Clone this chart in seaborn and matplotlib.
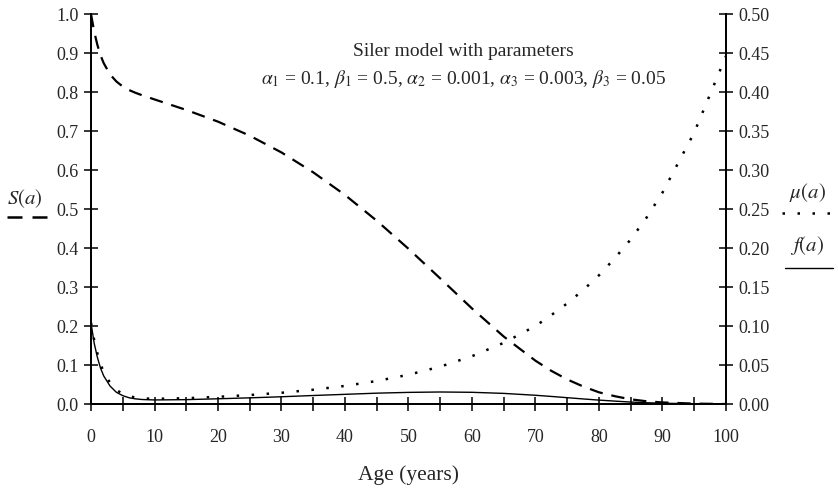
"""Siler-Modell: Überleben S(a), Sterberate mu(a) und Dichte f(a)."""
import matplotlib
matplotlib.use("Agg")
import matplotlib.pyplot as plt
from matplotlib.lines import Line2D
from matplotlib.ticker import MultipleLocator, FormatStrFormatter
import pandas as pd
import seaborn as sns

sns.set_theme(style="white")
plt.rcParams["font.family"] = ["Liberation Serif", "DejaVu Serif"]
plt.rcParams["mathtext.fontset"] = "stix"

# Werte
ages = [0, 0.5, 1, 1.5, 2, 3, 4, 5, 6, 7, 8, 10, 15, 20, 25, 30, 35, 40, 45,
        50, 55, 60, 65, 70, 72.5, 75, 77.5, 80, 82.5, 85, 87.5, 90, 95, 100]
survival = [1.0, 0.955, 0.921, 0.894, 0.874, 0.845, 0.827, 0.814, 0.805, 0.798,
            0.792, 0.781, 0.754, 0.724, 0.688, 0.645, 0.594, 0.536, 0.470,
            0.398, 0.322, 0.245, 0.173, 0.111, 0.085, 0.063, 0.045, 0.030,
            0.020, 0.012, 0.007, 0.004, 0.001, 0.0]
hazard = [0.104, 0.082, 0.065, 0.051, 0.041, 0.027, 0.018, 0.013, 0.010, 0.0083,
          0.0073, 0.0066, 0.0074, 0.0092, 0.0115, 0.0144, 0.0183, 0.0232, 0.0295,
          0.0375, 0.0479, 0.0613, 0.0784, 0.100, 0.114, 0.129, 0.146, 0.165,
          0.187, 0.211, 0.239, 0.271, 0.348, 0.446]
density = [0.104, 0.078, 0.060, 0.046, 0.036, 0.023, 0.015, 0.0107, 0.0080,
           0.0066, 0.0058, 0.0052, 0.0056, 0.0067, 0.0079, 0.0093, 0.0109,
           0.0124, 0.0139, 0.0149, 0.0154, 0.0150, 0.0136, 0.0112, 0.0097,
           0.0081, 0.0065, 0.0050, 0.0037, 0.0025, 0.0016, 0.0010, 0.0003, 0.0]

x_ticks = list(range(0, 101, 10))
x_minor = list(range(5, 100, 10))
title_lines = ["Siler model with parameters",
               r"$\alpha_1$ = 0.1, $\beta_1$ = 0.5, $\alpha_2$ = 0.001, "
               r"$\alpha_3$ = 0.003, $\beta_3$ = 0.05"]

df = pd.DataFrame({"age": ages, "S": survival, "mu": hazard, "f": density})

fig = plt.figure(figsize=(8.38, 4.9), dpi=100)
ax = fig.add_axes([0.1086, 0.1755, 0.7577, 0.7959])
ax2 = ax.twinx()

dash_style = (0, (6, 4))
dot_style = (0, (1, 5))

sns.lineplot(data=df, x="age", y="S", ax=ax, color="black", lw=1.6,
             linestyle=dash_style)
sns.lineplot(data=df, x="age", y="mu", ax=ax2, color="black", lw=1.8,
             linestyle=dot_style)
sns.lineplot(data=df, x="age", y="f", ax=ax2, color="black", lw=1.0)

ax.set_xlim(0, 100)
ax.set_ylim(0, 1.0)
ax2.set_ylim(0, 0.5)

ax.yaxis.set_major_locator(MultipleLocator(0.1))
ax.yaxis.set_major_formatter(FormatStrFormatter("%.1f"))
ax2.yaxis.set_major_locator(MultipleLocator(0.05))
ax2.yaxis.set_major_formatter(FormatStrFormatter("%.2f"))
ax.set_xticks(x_ticks)
ax.set_xticks(x_minor, minor=True)

for a in (ax, ax2):
    a.spines["top"].set_visible(False)
    for s in ("left", "right", "bottom"):
        a.spines[s].set_color("black")
        a.spines[s].set_linewidth(1.3)
    a.tick_params(axis="both", which="both", direction="inout", length=10,
                  width=1.1, color="black", labelsize=13, pad=4)
ax.tick_params(axis="x", which="both", bottom=True, pad=13)
ax.tick_params(axis="y", right=False)
ax2.tick_params(axis="y", left=False)

ax.set_xlabel("Age (years)", fontsize=15.5, labelpad=14)
ax.set_ylabel("")
ax2.set_ylabel("")
ax.grid(False)
ax2.grid(False)

# Beschriftung oben
ax.text(0.587, 0.9026, title_lines[0], transform=ax.transAxes, ha="center",
        va="center", fontsize=14)
ax.text(0.587, 0.833, title_lines[1], transform=ax.transAxes, ha="center",
        va="center", fontsize=14)

# Legendenbeschriftungen ausserhalb der Achsen
fig.text(0.03, 0.594, r"$S(a)$", fontsize=15, ha="center", va="center")
fig.add_artist(Line2D([0.008, 0.066], [0.557, 0.557], transform=fig.transFigure,
                      color="black", lw=1.8, linestyle=(0, (6, 4))))
fig.text(0.963, 0.608, r"$\mu(a)$", fontsize=15, ha="center", va="center")
fig.add_artist(Line2D([0.933, 0.997], [0.565, 0.565], transform=fig.transFigure,
                      color="black", lw=1.8, linestyle=(0, (1, 5))))
fig.text(0.963, 0.498, r"$f(a)$", fontsize=15, ha="center", va="center")
fig.add_artist(Line2D([0.937, 0.994], [0.453, 0.453], transform=fig.transFigure,
                      color="black", lw=1.0))

fig.savefig("out.png", dpi=100)
plt.close(fig)
